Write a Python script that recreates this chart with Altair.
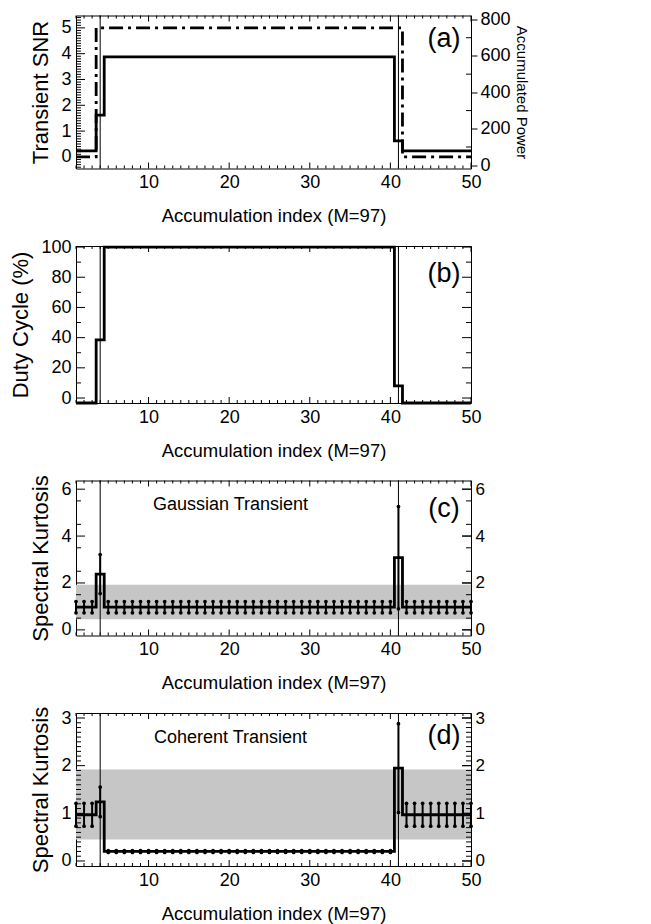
import altair as alt
import pandas as pd

# ---------------- data ----------------
idx = list(range(1, 51))
snr = [0.23] * 3 + [1.62] + [3.88] * 36 + [0.62] + [0.23] * 9
power = [46] * 3 + [754] * 38 + [46] * 9
duty = [-3.3] * 3 + [38.5] + [100] * 36 + [8] + [-3.3] * 9
sk_gauss = [0.97] * 3 + [2.38] + [0.97] * 36 + [3.08] + [0.97] * 9
sk_gauss_err = [0.24] * 3 + [0.83] + [0.24] * 36 + [2.18] + [0.24] * 9
sk_coh = [0.97] * 3 + [1.24] + [0.2] * 36 + [1.95] + [0.97] * 9
sk_coh_err = [0.24] * 3 + [0.31] + [0.02] * 36 + [0.93] + [0.24] * 9
transient_idx = [4, 41]
sk_band = [0.45, 1.92]

x_major = [10, 20, 30, 40, 50]
x_minor = [i for i in range(1, 51) if i % 10]
a_major = [0, 1, 2, 3, 4, 5]
a_minor = [round(-0.4 + 0.1 * k, 1) for k in range(59) if (k - 4) % 10]
p_major = [0, 200, 400, 600, 800]
p_minor = [100, 300, 500, 700]
b_major = [0, 20, 40, 60, 80, 100]
b_minor = [10, 30, 50, 70, 90]
c_major = [0, 2, 4, 6]
c_minor = [0.5, 1.5, 2.5, 3.5, 4.5, 5.5]
d_major = [0, 1, 2, 3]
d_minor = [round(0.1 * k, 1) for k in range(1, 31) if k % 10]

XDOM = [1, 50]
DOM_A = [-0.45, 5.48]
DOM_P = [-18, 822]
DOM_B = [-3.3, 100.7]
DOM_C = [-0.24, 6.37]
DOM_D = [-0.105, 3.105]

W = 395
HA, HB, HC, HD = 153, 157, 155, 153
FONT = "Liberation Sans"
LBL = 18
TTL = 22

COMMON = dict(labelFont=FONT, titleFont=FONT, labelColor="black", titleColor="black",
              titleFontWeight="normal", grid=False, domain=False)

XAXIS = alt.Axis(values=x_major, title="Accumulation index (M=97)", ticks=False,
                 labelPadding=5, titlePadding=15, labelFlush=False,
                 labelFontSize=LBL, titleFontSize=18.5, **COMMON)


def xs(field):
    return alt.X(f"{field}:Q", scale=alt.Scale(domain=XDOM, nice=False, zero=False), axis=XAXIS)


def ys(field, dom, axis):
    return alt.Y(f"{field}:Q", scale=alt.Scale(domain=dom, nice=False, zero=False), axis=axis)


def yaxis(title, values, orient="left", **kw):
    args = dict(values=values, title=title, orient=orient, ticks=False,
                labelPadding=5, titlePadding=8, labelFontSize=LBL, titleFontSize=TTL, labelFlush=False)
    args.update(COMMON)
    args.update(kw)
    return alt.Axis(**args)


def box_ticks(H, dom, yax, ymaj, ymin, right=True):
    layers = []
    for vals, L in ((x_major, 6), (x_minor, 3)):
        d = pd.DataFrame({"v": vals})
        base = alt.Chart(d).mark_rule(color="black", strokeWidth=1)
        layers.append(base.encode(x=xs("v"), y=alt.value(H), y2=alt.value(H - L)))
        layers.append(base.encode(x=xs("v"), y=alt.value(0), y2=alt.value(L)))
    for vals, L in ((ymaj, 9), (ymin, 5)):
        d = pd.DataFrame({"v": vals})
        base = alt.Chart(d).mark_rule(color="black", strokeWidth=1)
        layers.append(base.encode(y=ys("v", dom, yax), x=alt.value(0), x2=alt.value(L)))
        if right:
            layers.append(base.encode(y=ys("v", dom, yax), x=alt.value(W), x2=alt.value(W - L)))
    return layers


def vlines(H):
    return alt.Chart(pd.DataFrame({"t": transient_idx})).mark_rule(color="black", strokeWidth=1).encode(
        x=xs("t"), y=alt.value(0), y2=alt.value(H))


def label(txt, x, y, size):
    return alt.Chart(pd.DataFrame({"s": [txt]})).mark_text(
        font=FONT, fontSize=size, color="black", align="center", baseline="middle").encode(
        text="s:N", x=alt.value(x), y=alt.value(y))


# ---------------- panel (a) ----------------
dfa = pd.DataFrame({"x": idx, "snr": snr, "power": power})
YA = yaxis("Transient  SNR", a_major)
snr_line = alt.Chart(dfa).mark_line(interpolate="step", color="black", strokeWidth=2.8).encode(
    x=xs("x"), y=ys("snr", DOM_A, YA))
left_a = alt.layer(snr_line, vlines(HA), *box_ticks(HA, DOM_A, YA, a_major, a_minor, right=False),
                   label("(a)", 368, 23, 27))
YP = yaxis("Accumulated Power", p_major, orient="right", ticks=True, tickSize=6,
           tickColor="black", tickWidth=1, labelPadding=3, titlePadding=3, titleFontSize=15)
pow_line = alt.Chart(dfa).mark_line(interpolate="step", color="black", strokeWidth=2.8,
                                     strokeDash=[14, 5, 3, 5]).encode(
    x=xs("x"), y=ys("power", DOM_P, YP))
pminor = alt.Chart(pd.DataFrame({"v": p_minor})).mark_rule(color="black", strokeWidth=1).encode(
    y=ys("v", DOM_P, YP), x=alt.value(W), x2=alt.value(W - 5))
right_a = alt.layer(pow_line, pminor)
panel_a = alt.layer(left_a, right_a).resolve_scale(y="independent").properties(width=W, height=HA)

# ---------------- panel (b) ----------------
dfb = pd.DataFrame({"x": idx, "duty": duty})
YB = yaxis("Duty Cycle (%)", b_major)
duty_line = alt.Chart(dfb).mark_line(interpolate="step", color="black", strokeWidth=2.8).encode(
    x=xs("x"), y=ys("duty", DOM_B, YB))
panel_b = alt.layer(duty_line, vlines(HB), *box_ticks(HB, DOM_B, YB, b_major, b_minor),
                    label("(b)", 368, 28, 27)).properties(width=W, height=HB)


# ---------------- panels (c), (d) ----------------
def sk_panel(sk, err, dom, ymaj, ymin, H, tag, tag_y, name):
    YL = yaxis("Spectral Kurtosis", ymaj)
    df = pd.DataFrame({"x": idx, "sk": sk, "err": err})
    band = alt.Chart(pd.DataFrame({"lo": [sk_band[0]], "hi": [sk_band[1]]})).mark_rect(
        color="#c6c6c6").encode(x=alt.value(0), x2=alt.value(W), y=ys("lo", dom, YL), y2="hi:Q")
    line = alt.Chart(df).mark_line(interpolate="step", color="black", strokeWidth=2.8).encode(
        x=xs("x"), y=ys("sk", dom, YL))
    eb = alt.Chart(df).transform_calculate(lo="datum.sk - datum.err", hi="datum.sk + datum.err")
    bars = eb.mark_rule(color="black", strokeWidth=2).encode(x=xs("x"), y=ys("lo", dom, YL), y2="hi:Q")
    ends_lo = eb.mark_point(shape="circle", filled=True, size=14, color="black", opacity=1).encode(
        x=xs("x"), y=ys("lo", dom, YL))
    ends_hi = eb.mark_point(shape="circle", filled=True, size=14, color="black", opacity=1).encode(
        x=xs("x"), y=ys("hi", dom, YL))
    left = alt.layer(band, line, bars, ends_lo, ends_hi, vlines(H),
                     *box_ticks(H, dom, YL, ymaj, ymin, right=True),
                     label(tag, 368, tag_y, 27), label(name, 154.5, 24.5, 18))
    right = alt.Chart(pd.DataFrame({"v": ymaj})).mark_rule(color="black", strokeWidth=1).encode(
        y=ys("v", dom, yaxis(None, ymaj, orient="right", labelPadding=4, labelFontSize=17)),
        x=alt.value(W), x2=alt.value(W - 9))
    return alt.layer(left, right).resolve_scale(y="independent").properties(width=W, height=H)


panel_c = sk_panel(sk_gauss, sk_gauss_err, DOM_C, c_major, c_minor, HC, "(c)", 28, "Gaussian Transient")
panel_d = sk_panel(sk_coh, sk_coh_err, DOM_D, d_major, d_minor, HD, "(d)", 23, "Coherent Transient")

chart = alt.vconcat(panel_a, panel_b, panel_c, panel_d, spacing=77.5, bounds="flush").properties(
    padding={"left": 9, "top": 9.5, "right": 5, "bottom": 2}, background="white"
).configure_view(stroke="black", strokeWidth=1).configure_axis(
    labelFont=FONT, titleFont=FONT, labelColor="black", titleColor="black", titleFontWeight="normal"
)

chart.save("out.html", embed_options={"renderer": "svg", "actions": False})
